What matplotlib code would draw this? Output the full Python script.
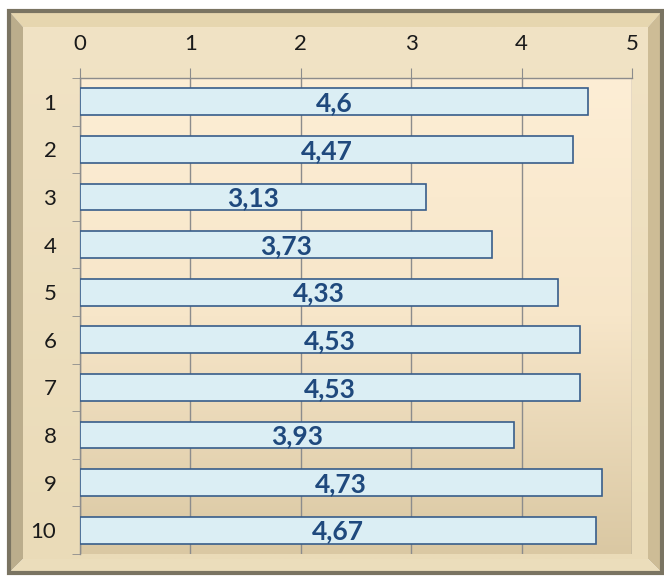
import numpy as np
import matplotlib
matplotlib.use("Agg")
import matplotlib.pyplot as plt
from matplotlib.patches import Polygon, Rectangle
from matplotlib.colors import LinearSegmentedColormap

plt.rcParams["font.family"] = ["Lato", "DejaVu Sans"]

categories = ["1", "2", "3", "4", "5", "6", "7", "8", "9", "10"]
values = [4.6, 4.47, 3.13, 3.73, 4.33, 4.53, 4.53, 3.93, 4.73, 4.67]
value_labels = ["4,6", "4,47", "3,13", "3,73", "4,33", "4,53", "4,53", "3,93", "4,73", "4,67"]
x_ticks = [0, 1, 2, 3, 4, 5]

W, H = 664, 576
fig = plt.figure(figsize=(W / 100, H / 100), dpi=100, facecolor="white")


def fx(px):
    return px / W


def fy(py):
    return 1 - py / H


# beveled frame
ox0, oy0, ox1, oy1 = 9, 11, 662, 573
ix0, iy0, ix1, iy1 = 23, 27, 648, 559
bevels = [
    ([(ox0, oy0), (ox1, oy0), (ix1, iy0), (ix0, iy0)], "#E6D6AF"),  # top
    ([(ox0, oy0), (ix0, iy0), (ix0, iy1), (ox0, oy1)], "#BBAD8C"),  # left
    ([(ox1, oy0), (ox1, oy1), (ix1, iy1), (ix1, iy0)], "#CDBC96"),  # right
    ([(ox0, oy1), (ix0, iy1), (ix1, iy1), (ox1, oy1)], "#EBDDBB"),  # bottom
]
for pts, col in bevels:
    fig.patches.append(Polygon([(fx(x), fy(y)) for x, y in pts], closed=True,
                               transform=fig.transFigure, facecolor=col,
                               edgecolor="none", zorder=0))
fig.patches.append(Rectangle((fx(ox0), fy(oy1)), fx(ox1 - ox0), (oy1 - oy0) / H,
                             transform=fig.transFigure, facecolor="none",
                             edgecolor="#7A7462", linewidth=3, zorder=1))

# inner panel gradient
bg = fig.add_axes([fx(ix0), fy(iy1), fx(ix1 - ix0), (iy1 - iy0) / H], zorder=-1)
panel_cmap = LinearSegmentedColormap.from_list("panel", ["#F1E3C5", "#EADBB8"])
bg.imshow(np.linspace(0, 1, 256).reshape(-1, 1), cmap=panel_cmap, aspect="auto",
          extent=[0, 1, 0, 1], origin="upper")
bg.axis("off")

# plot area
left, right, top, bottom = 80, 632, 78, 554
ax = fig.add_axes([fx(left), fy(bottom), fx(right - left), (bottom - top) / H])
area_cmap = LinearSegmentedColormap.from_list("area", ["#FDEED5", "#F7E6C9", "#DAC8A3"])
ax.imshow(np.linspace(0, 1, 256).reshape(-1, 1), cmap=area_cmap, aspect="auto",
          extent=[0, 5, len(categories) - 0.5, -0.5], zorder=0)

y = np.arange(len(categories))
ax.barh(y, values, height=0.56, color="#DBEEF4", edgecolor="#385D8A",
        linewidth=1.2, zorder=3)
for yi, v, lab in zip(y, values, value_labels):
    ax.text(v / 2, yi + 0.03, lab, ha="center", va="center", fontsize=19,
            fontweight="bold", color="#1F497D", zorder=4)

ax.set_xlim(0, 5)
ax.set_ylim(len(categories) - 0.5, -0.5)
ax.xaxis.tick_top()
ax.set_xticks(x_ticks)
ax.set_xticklabels([str(t) for t in x_ticks])
ax.set_yticks(y)
ax.set_yticklabels(categories)
ax.set_yticks(np.arange(-0.5, len(categories)), minor=True)
ax.tick_params(axis="x", which="major", length=7, pad=10, color="#8C8C8C",
               labelsize=16, labelcolor="#1A1A1A")
ax.tick_params(axis="y", which="major", length=0, pad=17, labelsize=16,
               labelcolor="#1A1A1A")
ax.tick_params(axis="y", which="minor", length=6, color="#8C8C8C")
ax.grid(axis="x", color="#8C8C8C", linewidth=1, zorder=1)
ax.set_axisbelow(True)
for s in ["right", "bottom"]:
    ax.spines[s].set_visible(False)
for s in ["left", "top"]:
    ax.spines[s].set_color("#8C8C8C")
    ax.spines[s].set_linewidth(1)

fig.savefig("out.png", dpi=100)
